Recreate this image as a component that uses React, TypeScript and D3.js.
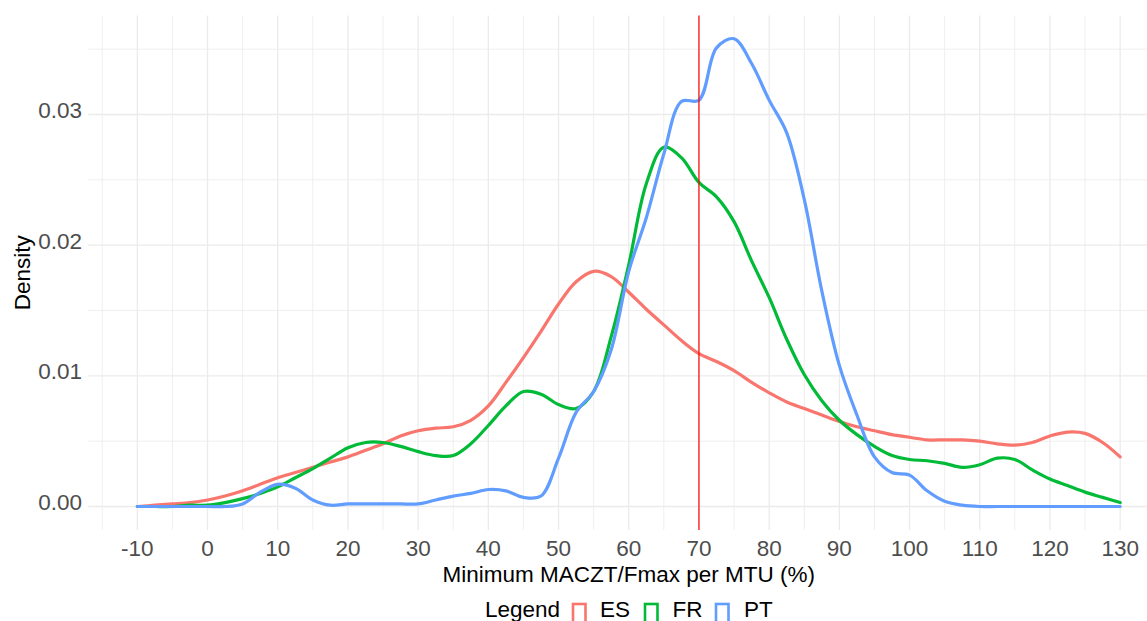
import React from "react";
import * as d3 from "d3";

const xGrid: number[] = [-10, -7.5, -5, -2.5, 0, 2.5, 5, 7.5, 10, 12.5, 15, 17.5, 20, 22.5, 25, 27.5, 30, 32.5, 35, 37.5, 40, 42.5, 45, 47.5, 50, 52.5, 55, 57.5, 60, 62.5, 65, 67.5, 70, 72.5, 75, 77.5, 80, 82.5, 85, 87.5, 90, 92.5, 95, 97.5, 100, 102.5, 105, 107.5, 110, 112.5, 115, 117.5, 120, 122.5, 125, 127.5, 130];

const esDensity: number[] = [0.0000, 0.0001, 0.0002, 0.0003, 0.0005, 0.0008, 0.0012, 0.0017, 0.0022, 0.0026, 0.0030, 0.0034, 0.0038, 0.0043, 0.0048, 0.0054, 0.0058, 0.0060, 0.0061, 0.0066, 0.0077, 0.0095, 0.0114, 0.0134, 0.0155, 0.0172, 0.0180, 0.0176, 0.0164, 0.0151, 0.0139, 0.0127, 0.0117, 0.0111, 0.0104, 0.0095, 0.0087, 0.0080, 0.0075, 0.0070, 0.0065, 0.0061, 0.0058, 0.0055, 0.0053, 0.0051, 0.0051, 0.0051, 0.0050, 0.0048, 0.0047, 0.0049, 0.0054, 0.0057, 0.0056, 0.0049, 0.0038];

const frDensity: number[] = [0.0000, 0.0000, 0.0000, 0.0001, 0.0001, 0.0003, 0.0006, 0.0010, 0.0015, 0.0022, 0.0029, 0.0037, 0.0045, 0.0049, 0.0049, 0.0046, 0.0042, 0.0039, 0.0039, 0.0048, 0.0062, 0.0077, 0.0088, 0.0086, 0.0078, 0.0075, 0.0088, 0.0130, 0.0185, 0.0247, 0.0275, 0.0267, 0.0248, 0.0237, 0.0218, 0.0188, 0.0160, 0.0128, 0.0101, 0.0081, 0.0066, 0.0055, 0.0046, 0.0039, 0.0036, 0.0035, 0.0033, 0.0030, 0.0032, 0.0037, 0.0036, 0.0028, 0.0021, 0.0016, 0.0011, 0.0007, 0.0003];

const ptDensity: number[] = [0, 0, 0, 0, 0, 0, 0.0002, 0.0011, 0.0017, 0.0014, 0.0005, 0.0001, 0.0002, 0.0002, 0.0002, 0.0002, 0.0002, 0.0005, 0.0008, 0.0010, 0.0013, 0.0012, 0.0007, 0.0008, 0.0037, 0.0072, 0.0088, 0.0120, 0.0180, 0.0221, 0.0270, 0.0310, 0.0311, 0.0351, 0.0358, 0.0339, 0.0311, 0.0286, 0.0235, 0.0165, 0.0108, 0.0070, 0.0038, 0.0026, 0.0024, 0.0012, 0.0004, 0.0001, 0, 0, 0, 0, 0, 0, 0, 0, 0];

const seriesNames: string[] = ["ES", "FR", "PT"];
const seriesColors: string[] = ["#F8766D", "#00BA38", "#619CFF"];
const seriesValues: number[][] = [esDensity, frDensity, ptDensity];

const xMajorTicks: number[] = [-10, 0, 10, 20, 30, 40, 50, 60, 70, 80, 90, 100, 110, 120, 130];
const xMinorTicks: number[] = [-15, -5, 5, 15, 25, 35, 45, 55, 65, 75, 85, 95, 105, 115, 125, 135];
const yMajorTicks: number[] = [0, 0.01, 0.02, 0.03];
const yMinorTicks: number[] = [0.005, 0.015, 0.025, 0.035];
const thresholdX = 70;

const xTitle = "Minimum MACZT/Fmax per MTU (%)";
const yTitle = "Density";
const legendTitle = "Legend";

export default function App() {
  const W = 1147, H = 621;
  const left = 88.2, right = 1169.3, top = 15.6, bottom = 529.9;
  const x = d3.scaleLinear().domain([-17, 137]).range([left, right]);
  const y = d3.scaleLinear().domain([-0.00179, 0.03757]).range([bottom, top]);
  const line = d3
    .line<[number, number]>()
    .x((d) => x(d[0]))
    .y((d) => y(d[1]))
    .curve(d3.curveCatmullRom.alpha(0.5));
  const font = "'Liberation Sans', Arial, sans-serif";
  const fs = 22.5;
  const grid = "#EBEBEB";

  const legendItems = [
    { box: 573, text: 600 },
    { box: 645, text: 672.6 },
    { box: 716, text: 744 },
  ];
  const legendBaseline = 617;

  return (
    <svg width={W} height={H} style={{ position: "absolute", left: 0, top: 0, background: "#fff" }} fontFamily={font}>
      <rect x={0} y={0} width={W} height={H} fill="#fff" />
      {yMinorTicks.map((t) => (
        <line key={"ym" + t} x1={left} x2={right} y1={y(t)} y2={y(t)} stroke={grid} strokeWidth={0.8} />
      ))}
      {xMinorTicks.map((t) => (
        <line key={"xm" + t} x1={x(t)} x2={x(t)} y1={top} y2={bottom} stroke={grid} strokeWidth={0.8} />
      ))}
      {yMajorTicks.map((t) => (
        <line key={"yM" + t} x1={left} x2={right} y1={y(t)} y2={y(t)} stroke={grid} strokeWidth={1.3} />
      ))}
      {xMajorTicks.map((t) => (
        <line key={"xM" + t} x1={x(t)} x2={x(t)} y1={top} y2={bottom} stroke={grid} strokeWidth={1.3} />
      ))}
      {seriesValues.map((vals, i) => (
        <path
          key={seriesNames[i]}
          d={line(xGrid.map((xv, j) => [xv, vals[j]] as [number, number])) || ""}
          fill="none"
          stroke={seriesColors[i]}
          strokeWidth={3.2}
          strokeLinejoin="round"
          strokeLinecap="round"
        />
      ))}
      <line x1={x(thresholdX)} x2={x(thresholdX)} y1={top} y2={bottom} stroke="#FF0000" strokeWidth={1.2} />
      {yMajorTicks.map((t) => (
        <text key={"yl" + t} x={82} y={y(t) - 4} textAnchor="end" dominantBaseline="central" fontSize={fs} fill="#4D4D4D">
          {t.toFixed(2)}
        </text>
      ))}
      {xMajorTicks.map((t) => (
        <text key={"xl" + t} x={x(t)} y={556} textAnchor="middle" fontSize={fs} fill="#4D4D4D">
          {String(t)}
        </text>
      ))}
      <text x={(left + right) / 2} y={581.5} textAnchor="middle" fontSize={fs} fill="#000">
        {xTitle}
      </text>
      <text transform={`translate(29.5, ${(top + bottom) / 2}) rotate(-90)`} textAnchor="middle" fontSize={fs} fill="#000">
        {yTitle}
      </text>
      <text x={485} y={legendBaseline} fontSize={fs} fill="#000">
        {legendTitle}
      </text>
      {seriesNames.map((n, i) => (
        <g key={"lg" + n}>
          <rect x={legendItems[i].box} y={604} width={12.5} height={24} fill="none" stroke={seriesColors[i]} strokeWidth={2.6} />
          <text x={legendItems[i].text} y={legendBaseline} fontSize={fs} fill="#000">
            {n}
          </text>
        </g>
      ))}
    </svg>
  );
}
